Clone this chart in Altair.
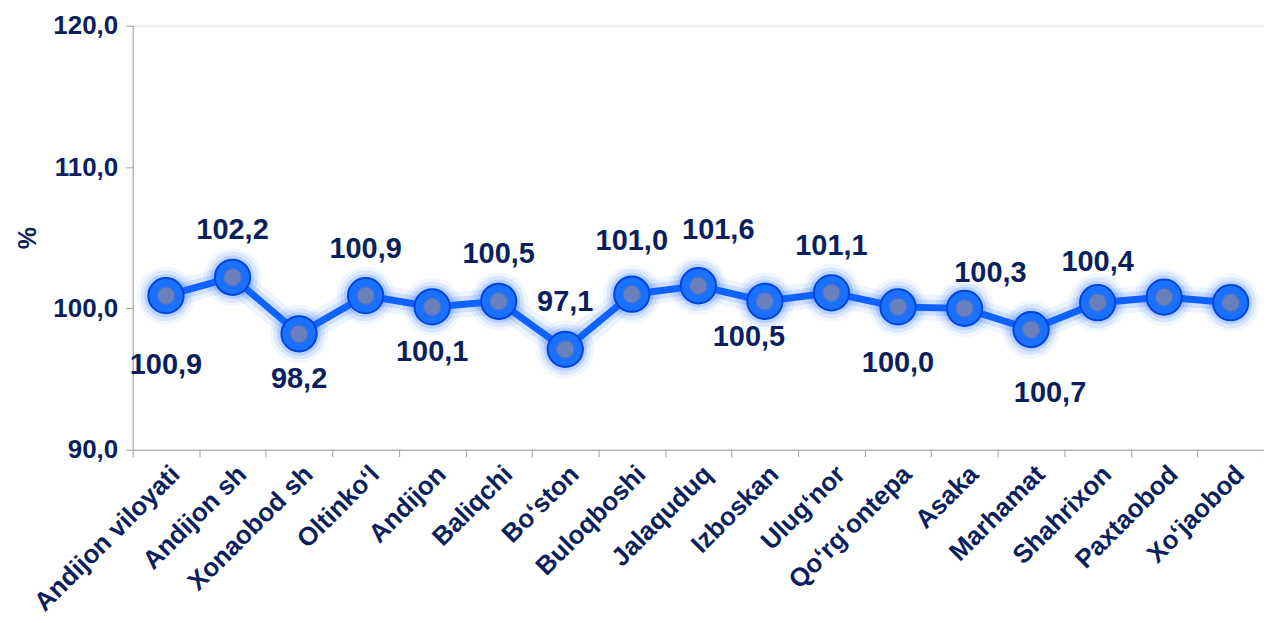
import altair as alt
import pandas as pd

categories = ["Andijon viloyati", "Andijon sh", "Xonaobod sh", "Oltinko‘l", "Andijon",
              "Baliqchi", "Bo‘ston", "Buloqboshi", "Jalaquduq", "Izboskan", "Ulug‘nor",
              "Qo‘rg‘ontepa", "Asaka", "Marhamat", "Shahrixon", "Paxtaobod", "Xo‘jaobod"]
values = [100.9, 102.2, 98.2, 100.9, 100.1, 100.5, 97.1, 101.0, 101.6, 100.5, 101.1,
          100.1, 100.0, 98.5, 100.4, 100.8, 100.4]
label_texts = ["100,9", "102,2", "98,2", "100,9", "100,1", "100,5", "97,1", "101,0", "101,6",
               "100,5", "101,1", "100,0", "100,3", "100,7", "100,4", "", ""]
label_side = ["low", "above", "below", "above", "below", "above", "above", "high", "high_r",
              "near_l", "above", "mid", "near_r", "low_r", "above_s", "none", "none"]

df = pd.DataFrame({"cat": categories, "val": values, "lab": label_texts, "side": label_side})

NAVY = "#0b1f5e"
BLUE = "#0f62ff"
FONT = "Liberation Sans"

x = alt.X("cat:N", sort=categories, title=None,
          scale=alt.Scale(paddingInner=0, paddingOuter=0),
          axis=alt.Axis(labelAngle=-45, labelFont=FONT, labelFontSize=26, labelFontWeight="bold",
                        labelColor=NAVY, domainColor="#a0a0a0", tickColor="#a0a0a0", tickSize=7,
                        tickBand="extent", labelPadding=4, labelLimit=400))
y = alt.Y("val:Q", title="%", scale=alt.Scale(domain=[90, 120], nice=False, zero=False),
          axis=alt.Axis(values=[90, 100, 110, 120], grid=False,
                        labelExpr="replace(format(datum.value, '.1f'), '.', ',')",
                        labelFont=FONT, labelFontSize=26, labelFontWeight="bold", labelColor=NAVY,
                        domainColor="#a0a0a0", tickColor="#a0a0a0", tickSize=7, labelPadding=8,
                        titleFont=FONT, titleFontSize=25, titleFontWeight="bold", titleColor=NAVY,
                        titlePadding=12))

base = alt.Chart(df).encode(x=x, y=y)

glow_line = base.mark_line(color=BLUE, strokeWidth=26, opacity=0.07)
glow_line2 = base.mark_line(color=BLUE, strokeWidth=16, opacity=0.14)
line = base.mark_line(color=BLUE, strokeWidth=7)

glow0 = base.mark_circle(color=BLUE, size=3400, opacity=0.06)
glow1 = base.mark_circle(color=BLUE, size=2600, opacity=0.10)
glow2 = base.mark_circle(color=BLUE, size=1900, opacity=0.16)
dot = base.mark_circle(color="#1a70ff", size=1250, opacity=1, stroke="#0046d8", strokeWidth=2)
inner = base.mark_circle(color="#6a80bd", size=300, opacity=1, stroke="#4f6fc4", strokeWidth=1)

def labels(side, dy, dx=0):
    return base.transform_filter(alt.datum.side == side).mark_text(
        font=FONT, fontSize=29, fontWeight="bold", color=NAVY, dy=dy, dx=dx).encode(text="lab:N")

chart = alt.layer(glow_line, glow_line2, line, glow0, glow1, glow2, dot, inner,
                  labels("above", -47), labels("above_s", -41), labels("high", -53),
                  labels("high_r", -56, 20), labels("near_r", -35, 26),
                  labels("below", 45), labels("near_l", 36, -16), labels("mid", 56),
                  labels("low", 70), labels("low_r", 64, 19)).properties(
    width=1134, height=425,
    autosize=alt.AutoSizeParams(type="none"),
    padding={"left": 125, "top": 17, "right": 0, "bottom": 180},
).configure_view(stroke=None).configure(background="white")

chart.save("out.html", embed_options={"renderer": "svg", "actions": False})
